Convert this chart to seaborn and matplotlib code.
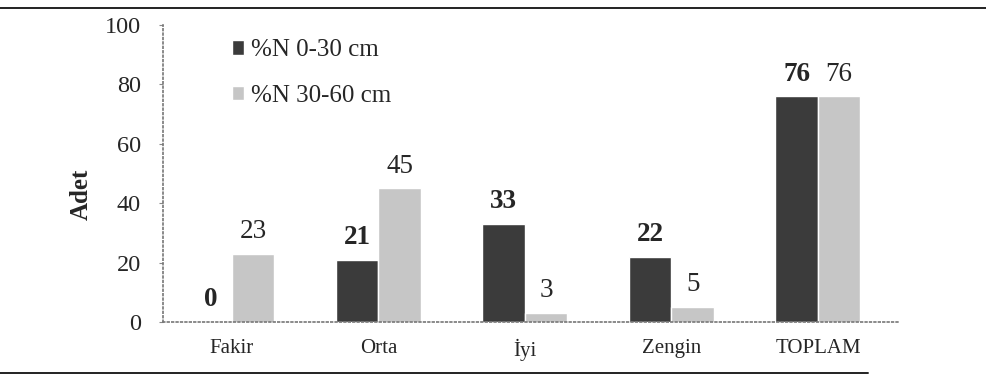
import seaborn as sns
import matplotlib.pyplot as plt
import pandas as pd
from matplotlib.lines import Line2D

categories = ['Fakir', 'Orta', 'İyi', 'Zengin', 'TOPLAM']
series_names = ['%N 0-30 cm', '%N 30-60 cm']
n_0_30 = [0, 21, 33, 22, 76]
n_30_60 = [23, 45, 3, 5, 76]
y_ticks = [0, 20, 40, 60, 80, 100]

df = pd.DataFrame({
    'kategori': categories * 2,
    'seri': [series_names[0]] * len(categories) + [series_names[1]] * len(categories),
    'deger': n_0_30 + n_30_60,
})

sns.set_style("white")
plt.rcParams['font.family'] = ['Liberation Serif', 'DejaVu Serif']

fig = plt.figure(figsize=(9.86, 3.78), dpi=100)
ax = fig.add_axes([0.1653, 0.148, 0.7475, 0.786])

renkler = {series_names[0]: '#3b3b3b', series_names[1]: '#c6c6c6'}
sns.barplot(data=df, x='kategori', y='deger', hue='seri', order=categories,
            hue_order=series_names, palette=renkler, width=0.58, gap=0,
            saturation=1, ax=ax)

ax.set_xlim(-0.471, 4.56)
ax.set_ylim(0, 100)
ax.set_yticks(y_ticks)
ax.tick_params(axis='y', labelsize=17.5, length=3, color='#888888', direction='out',
               left=True, pad=13)
ax.tick_params(axis='x', labelsize=15, length=0, pad=12)
ax.set_xlabel('')
ax.set_ylabel('Adet', fontsize=18, fontweight='bold')
ax.yaxis.set_label_coords(-0.095, 0.43)

for s in ['top', 'right']:
    ax.spines[s].set_visible(False)
for s in ['left', 'bottom']:
    ax.spines[s].set_color('#777777')
    ax.spines[s].set_linestyle(':')
    ax.spines[s].set_linewidth(1.2)

ax.bar_label(ax.containers[0], fontsize=19.5, fontweight='bold', padding=7)
ax.bar_label(ax.containers[1], fontsize=19.5, padding=7)

leg = ax.legend(loc='upper left', bbox_to_anchor=(0.080, 0.985), frameon=False,
                fontsize=18, handlelength=0.5, handleheight=0.5, handletextpad=0.25,
                labelspacing=0.95, borderaxespad=0)

# ince yatay cizgiler (ust ve alt)
fig.add_artist(Line2D([0, 1], [0.979, 0.979], color='#222222', lw=1.4))
fig.add_artist(Line2D([0, 0.88], [0.013, 0.013], color='#222222', lw=1.4))

fig.savefig('out.png', dpi=100)
